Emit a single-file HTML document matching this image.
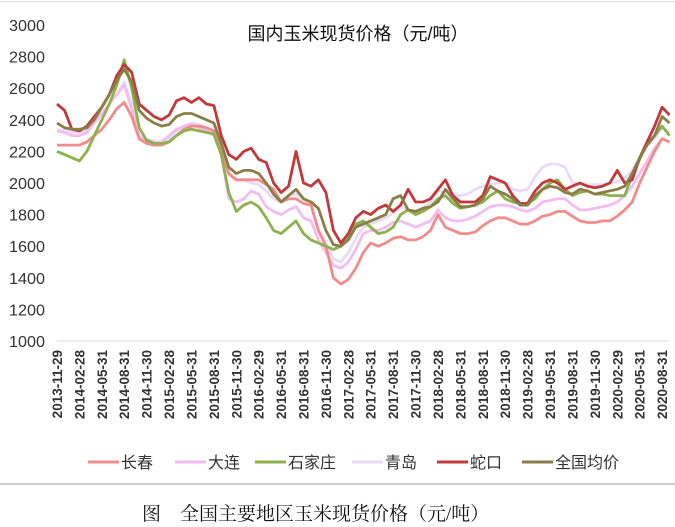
<!DOCTYPE html>
<html><head><meta charset="utf-8"><style>
html,body{margin:0;padding:0;background:#fff;}
svg{display:block;font-family:"Liberation Sans","Noto Sans CJK SC",sans-serif;}
</style></head><body>
<svg id="chart" width="675" height="527" viewBox="0 0 675 527">
<rect x="0" y="0" width="675" height="527" fill="#fff"/>
<line x1="0" y1="1.5" x2="675" y2="1.5" stroke="#ddd"/>
<text x="358" y="40" text-anchor="middle" font-size="18" fill="#111" font-family="Liberation Sans,Noto Sans CJK SC,sans-serif">国内玉米现货价格（元/吨）</text>
<g id="yaxis"></g><g id="xaxis"></g><g id="series"></g>
<line x1="0" y1="484" x2="675" y2="484" stroke="#ccc" stroke-width="2"/>
<g id="legend"></g>
<text x="142" y="520" font-size="19" fill="#111" font-family="Liberation Serif,Noto Serif CJK SC,serif">图　全国主要地区玉米现货价格（元/吨）</text>
</svg>
<script>
const yTicks=[1000,1200,1400,1600,1800,2000,2200,2400,2600,2800,3000];
const xTickLabels=["2013-11-29","2014-02-28","2014-05-31","2014-08-31","2014-11-30","2015-02-28","2015-05-31","2015-08-31","2015-11-30","2016-02-29","2016-05-31","2016-08-31","2016-11-30","2017-02-28","2017-05-31","2017-08-31","2017-11-30","2018-02-28","2018-05-31","2018-08-31","2018-11-30","2019-02-28","2019-05-31","2019-08-31","2019-11-30","2020-02-29","2020-05-31","2020-08-31"];
const seriesNames=["长春","大连","石家庄","青岛","蛇口","全国均价"];
const changchun=[2240,2240,2240,2240,2260,2300,2340,2400,2470,2510,2420,2280,2250,2240,2240,2260,2300,2340,2360,2360,2350,2330,2200,2060,2020,2020,2020,2020,1990,1960,1880,1900,1900,1870,1860,1700,1600,1400,1360,1390,1460,1560,1620,1600,1620,1650,1660,1640,1640,1660,1700,1800,1720,1700,1680,1680,1690,1730,1760,1780,1780,1760,1740,1740,1760,1790,1800,1820,1820,1790,1760,1750,1750,1760,1760,1790,1830,1880,2000,2100,2200,2280,2260];
const dalian=[2330,2320,2300,2300,2320,2380,2440,2500,2560,2620,2470,2290,2270,2260,2260,2300,2340,2360,2370,2350,2330,2300,2180,1900,1880,1900,1950,1930,1850,1820,1800,1830,1850,1780,1760,1640,1560,1480,1460,1500,1580,1680,1700,1700,1720,1750,1760,1740,1720,1740,1760,1830,1780,1760,1760,1770,1790,1820,1850,1860,1860,1850,1830,1820,1840,1880,1890,1900,1900,1860,1830,1830,1840,1850,1860,1880,1920,1980,2060,2140,2220,2280,2260];
const shijiazhuang=[2200,2180,2160,2140,2200,2300,2400,2500,2620,2780,2600,2350,2270,2250,2250,2260,2300,2330,2340,2330,2320,2310,2180,1940,1820,1860,1880,1850,1780,1700,1680,1720,1760,1680,1640,1620,1600,1580,1600,1660,1740,1760,1720,1680,1690,1720,1800,1830,1800,1820,1850,1900,1920,1870,1840,1850,1860,1880,1920,1950,1900,1880,1870,1870,1900,1960,2000,2020,1960,1920,1940,1950,1930,1930,1920,1920,1920,2050,2150,2250,2300,2360,2300];
const qingdao=[2340,2330,2320,2320,2340,2380,2440,2500,2560,2640,2500,2300,2280,2260,2260,2280,2330,2360,2380,2370,2350,2310,2200,2050,2020,2020,2000,1990,1950,1900,1880,1920,1930,1900,1870,1700,1620,1520,1500,1560,1650,1720,1740,1760,1780,1810,1850,1830,1820,1840,1880,1950,1940,1930,1920,1930,1960,1980,1990,2000,2000,1960,1950,1960,2040,2100,2120,2120,2100,2000,1990,1990,1990,1990,2000,2010,2030,2080,2160,2240,2280,2350,2320];
const shekou=[2500,2460,2340,2330,2360,2420,2480,2560,2680,2750,2700,2500,2460,2420,2400,2430,2520,2540,2510,2540,2500,2490,2300,2180,2150,2200,2220,2150,2130,2000,1940,1980,2200,2000,1980,2020,1940,1700,1620,1680,1780,1820,1800,1840,1860,1820,1860,1960,1880,1880,1900,1960,2020,1920,1880,1880,1880,1920,2040,2020,2000,1920,1870,1870,1950,2000,2020,2000,1960,1980,2000,1980,1970,1980,2000,2080,2000,2020,2160,2260,2360,2480,2430];
const national=[2380,2350,2340,2340,2350,2400,2480,2560,2650,2720,2640,2460,2410,2380,2360,2370,2420,2440,2440,2420,2400,2380,2250,2100,2060,2080,2080,2060,2000,1930,1880,1920,1960,1900,1880,1840,1700,1610,1600,1640,1720,1740,1760,1780,1800,1900,1920,1830,1820,1840,1850,1880,1960,1900,1850,1850,1860,1900,1980,1950,1930,1900,1860,1860,1920,1960,1980,1970,1940,1930,1960,1950,1930,1940,1950,1960,1980,2060,2160,2240,2300,2420,2380];

const NS="http://www.w3.org/2000/svg";
const X0=57, MONTH=7.47, Y3000=25, Y1000=341;
function xScale(i){return X0+i*MONTH;}
function yScale(v){return Y1000-(v-1000)*(Y1000-Y3000)/2000;}
function mk(tag,attrs,parent){const e=document.createElementNS(NS,tag);for(const k in attrs)e.setAttribute(k,attrs[k]);parent.appendChild(e);return e;}

const ya=document.getElementById('yaxis');
yTicks.forEach(v=>{
  const t=mk('text',{x:9,y:yScale(v)+6,'font-size':16,fill:'#333',textLength:36,lengthAdjust:'spacingAndGlyphs'},ya);
  
  
  t.textContent=v;
});
const base=mk('line',{x1:X0,y1:Y1000,x2:669,y2:Y1000,stroke:'#ddd','stroke-width':1},ya);



const xa=document.getElementById('xaxis');
xTickLabels.forEach((lab,i)=>{
  const x=xScale(i*3)+5;
  const t=mk('text',{x:x,y:350,'font-size':13.5,'font-weight':'bold',fill:'#333','text-anchor':'end',transform:'rotate(-90 '+x+' 350)'},xa);
  
  
  t.textContent=lab;
});

const data=[changchun,dalian,shijiazhuang,qingdao,shekou,national];
const colors=["#f28c8c","#f3bdf0","#8db24c","#e9daf6","#c0393b","#8a7e48"];
const keys=["changchun","dalian","shijiazhuang","qingdao","shekou","national-average"];
const order=[3,1,0,2,4,5];
const sg=document.getElementById('series');
order.forEach(k=>{
  const d=data[k].map((v,i)=>(i?'L':'M')+xScale(i).toFixed(1)+','+yScale(v).toFixed(1)).join(' ');
  const p=mk('path',{d:d,fill:'none',stroke:colors[k],'stroke-width':2.8,'stroke-linejoin':'round'},sg);
  
  
});

const lg=document.getElementById('legend');
const lx=[88,175,255,352,437,522];
seriesNames.forEach((n,k)=>{
  const g=mk('g',{},lg);
  
  
  mk('line',{x1:lx[k],y1:462,x2:lx[k]+31,y2:462,stroke:colors[k],'stroke-width':3},g);
  const t=mk('text',{x:lx[k]+33,y:468,'font-size':16,fill:'#333'},g);
  t.textContent=n;
});
</script>
</body></html>
